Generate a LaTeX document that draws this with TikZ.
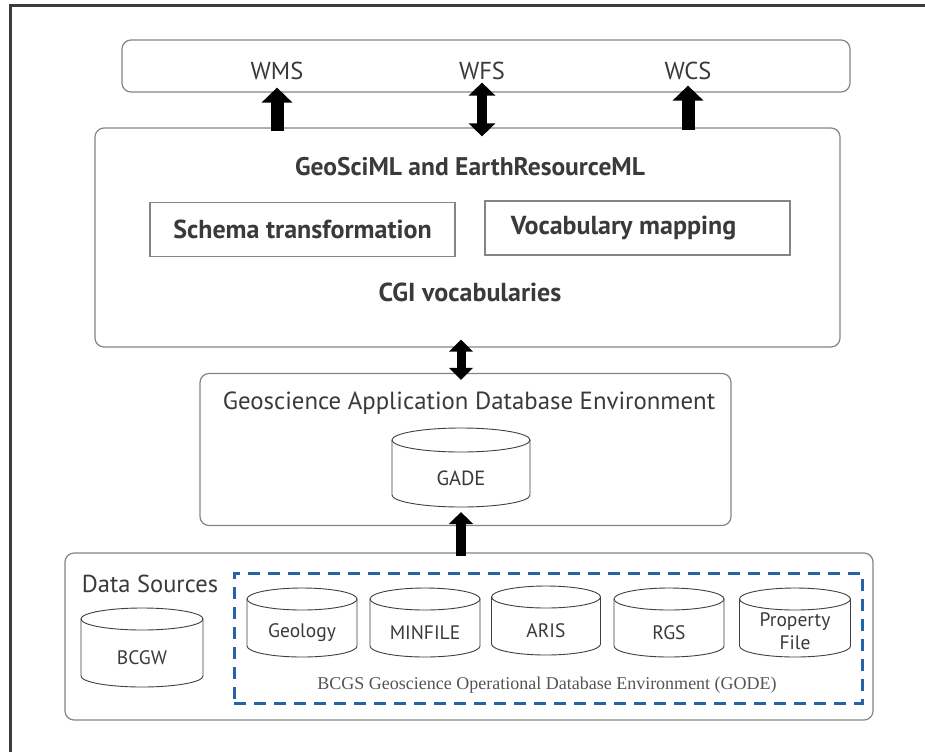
\documentclass[tikz,border=0pt]{standalone}
\usepackage{fontspec}
\setmainfont{PT Sans}
\newfontfamily\capserif{Liberation Serif}
\usetikzlibrary{arrows.meta,calc}
\definecolor{txt}{HTML}{3A3A3A}
\definecolor{boxline}{HTML}{858585}
\definecolor{dashblue}{HTML}{2563A8}
\definecolor{framec}{HTML}{3C3C3C}
\definecolor{capc}{HTML}{555555}
\newcommand{\dbcyl}[8]{% name, cx, top, w, h, ry, label, extra style
  \pgfmathsetmacro\cylrx{#4/2}
  \draw[cyl] ({#2-#4/2},{#3+#6}) -- ({#2-#4/2},{#3+#5-#6})
     arc[start angle=180,end angle=360,x radius=\cylrx pt,y radius=#6pt]
     -- ({#2+#4/2},{#3+#6});
  \draw[cyl] (#2,{#3+#6}) ellipse[x radius=\cylrx pt,y radius=#6pt];
  \node[cyllbl,#8] (#1) at (#2,{#3+2*#6+(#5-2*#6)/2-1}) {#7};
}
\begin{document}
\begin{tikzpicture}[x=1pt,y=-1pt,
  rbox/.style={draw=boxline, line width=1.2pt, rounded corners=9pt, inner sep=0pt},
  sbox/.style={draw=boxline, line width=1.2pt, inner sep=0pt, text=txt,
     font=\fontsize{26}{30}\selectfont\bfseries},
  lbl/.style={text=txt, inner sep=0pt},
  cyl/.style={draw=black!75, line width=0.9pt},
  cyllbl/.style={text=txt, inner sep=0pt, font=\fontsize{19.5}{23}\selectfont},
  uparrow/.style={line width=13pt, -{Triangle[length=15pt,width=30pt]}},
  dblA/.style={line width=10pt, {Triangle[length=13pt,width=26pt]}-{Triangle[length=13pt,width=26pt]}},
  dblB/.style={line width=9pt, {Triangle[length=12pt,width=23pt]}-{Triangle[length=12pt,width=23pt]}},
  upB/.style={line width=10pt, -{Triangle[length=12pt,width=24pt]}}
]
\useasboundingbox (0,0) rectangle (925,752);
\fill[white] (0,0) rectangle (925,752);
\draw[framec, line width=3pt] (10.5,752) -- (10.5,6) -- (925,6);

% services
\node[rbox, minimum width=728pt, minimum height=52pt] (services) at (486,66) {};
\node[lbl, font=\fontsize{24.5}{28}\selectfont] (wms) at (277,71) {WMS};
\node[lbl, font=\fontsize{24.5}{28}\selectfont] (wfs) at (482,71) {WFS};
\node[lbl, font=\fontsize{24.5}{28}\selectfont] (wcs) at (688,71) {WCS};

% middle box
\node[rbox, minimum width=745pt, minimum height=219pt] (mid) at (467.5,237.5) {};
\node[lbl, font=\fontsize{25.5}{30}\selectfont\bfseries] (geosci) at (470,167) {GeoSciML and EarthResourceML};
\node[sbox, minimum width=305pt, minimum height=54pt] (schema) at (302.5,229.5) {Schema transformation};
\node[sbox, minimum width=305pt, minimum height=54pt] (vocab) at (637.5,228) {Vocabulary mapping\hspace*{28pt}\null};
\node[lbl, font=\fontsize{26}{30}\selectfont\bfseries] (cgi) at (470,292) {CGI vocabularies};

% GADE box
\node[rbox, minimum width=531pt, minimum height=152pt] (gadebox) at (465.5,449.5) {};
\node[lbl, font=\fontsize{24.8}{28}\selectfont] (gadetitle) at (469,403) {Geoscience Application Database Environment};
\dbcyl{gade}{461}{428}{138}{79}{12}{GADE}{font=\fontsize{20.5}{24}\selectfont}

% bottom box
\node[rbox, minimum width=808pt, minimum height=167pt] (bottom) at (469,636.5) {};
\node[lbl, font=\fontsize{24.5}{28}\selectfont] (datasrc) at (150,584) {Data Sources};
\dbcyl{bcgw}{142}{608}{122}{79}{11}{BCGW}{}
\node[draw=dashblue, line width=3pt, dash pattern=on 12pt off 8pt, minimum width=628pt, minimum height=130pt, inner sep=0pt] (gode) at (548,638) {};
\dbcyl{geology}{302}{588}{110}{69}{11}{Geology}{}
\dbcyl{minfile}{425}{588}{110}{69}{11}{MINFILE}{}
\dbcyl{aris}{546}{586}{109}{69}{11}{ARIS}{}
\dbcyl{rgs}{669}{588}{110}{69}{11}{RGS}{}
\dbcyl{property}{795}{588}{111}{69}{11}{Property\\File}{align=center, yshift=1pt}
\node[lbl, text=capc, font=\capserif\fontsize{18}{22}\selectfont] (godecap) at (547,685) {BCGS Geoscience Operational Database Environment (GODE)};

% arrows
\draw[uparrow] ($(mid.north -| wms)+(0,4)$) -- ($(services.south -| wms)+(0,-5)$);
\draw[dblA] ($(mid.north -| wfs)+(0,9)$) -- ($(services.south -| wfs)+(0,-10)$);
\draw[uparrow] ($(mid.north -| wcs)+(0,3)$) -- ($(services.south -| wcs)+(0,-7)$);
\draw[dblB] ($(mid.south -| gade)+(0,-8)$) -- ($(gadebox.north -| gade)+(0,7)$);
\draw[upB] ($(bottom.north -| gade)+(0,4)$) -- ($(gadebox.south -| gade)+(0,-14)$);
\end{tikzpicture}
\end{document}
